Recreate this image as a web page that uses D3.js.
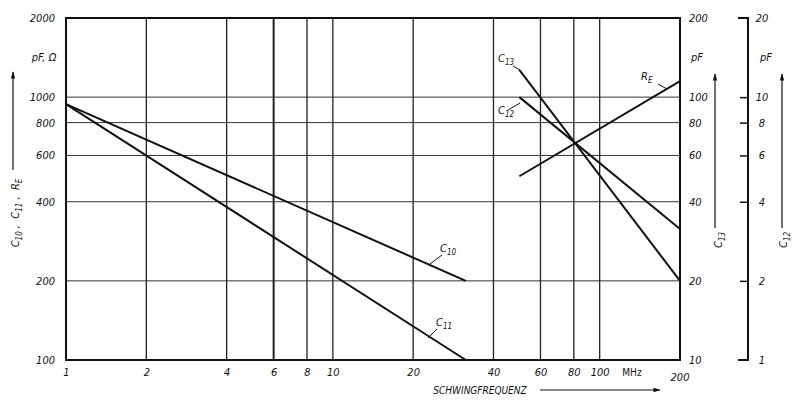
<!DOCTYPE html>
<html><head><meta charset="utf-8">
<script src="https://cdn.jsdelivr.net/npm/d3@7"></script>
<style>
body{margin:0;background:#fff;}
svg text{font-family:"Liberation Sans Narrow","DejaVu Sans Condensed","DejaVu Sans",sans-serif;font-style:italic;fill:#111;}
</style></head>
<body><svg id="c" width="799" height="411"></svg>
<script>
// Data
const freqTicks = [1,2,4,6,8,10,20,40,60,80,100,200];
const freqGrid = [2,4,6,8,10,20,40,60,80,100];
const leftTicks = [100,200,400,600,800,1000,2000];
const leftGrid = [200,400,600,800,1000];
const right1Ticks = [10,20,40,60,80,100,200];
const right2Ticks = [1,2,4,6,8,10,20];
const c10Freq = [1,31.5], c10Val = [940,200];
const c11Freq = [1,31.5], c11Val = [940,100];
const c13Freq = [50,200], c13Val = [127,20];     // right axis pF 10..200
const c12Freq = [50,200], c12Val = [10,3.15];    // second right axis 1..20
const reFreq = [50,200], reVal = [500,1150];     // left axis Ω

const svg = d3.select("#c");
const L=66,R=680,T=18,B=360;
const x = d3.scaleLog().domain([1,200]).range([L,R]);
const yL = d3.scaleLog().domain([100,2000]).range([B,T]);
const yR1 = d3.scaleLog().domain([10,200]).range([B,T]);
const yR2 = d3.scaleLog().domain([1,20]).range([B,T]);

// grid
svg.append("g").selectAll("line").data(leftGrid).join("line")
  .attr("x1",L).attr("x2",R).attr("y1",d=>yL(d)).attr("y2",d=>yL(d))
  .attr("stroke","#333").attr("stroke-width",1);
svg.append("g").selectAll("line").data(freqGrid).join("line")
  .attr("x1",d=>x(d)).attr("x2",d=>x(d)).attr("y1",T).attr("y2",B)
  .attr("stroke","#222").attr("stroke-width",d=>d===6?2:1.3);

// frame
svg.append("rect").attr("x",L).attr("y",T).attr("width",R-L).attr("height",B-T)
  .attr("fill","none").attr("stroke","#111").attr("stroke-width",2);

// axes (labels only)
const fs = 11;
const gx = svg.append("g").attr("transform",`translate(0,${B})`)
  .call(d3.axisBottom(x).tickValues(freqTicks.filter(d=>d!==200)).tickFormat(d3.format("d")).tickSize(0).tickPadding(8));
gx.select(".domain").remove();
gx.selectAll("text").attr("font-size",fs).attr("font-family",null);
svg.append("text").attr("x",x(200)).attr("y",B+21).attr("text-anchor","middle").attr("font-size",fs).text("200");
svg.append("text").attr("x",632).attr("y",B+16).attr("text-anchor","middle").attr("font-size",10).style("font-style","normal").text("MHz");

const gyl = svg.append("g").attr("transform",`translate(${L},0)`)
  .call(d3.axisLeft(yL).tickValues(leftTicks).tickFormat(d3.format("d")).tickSize(0).tickPadding(11));
gyl.select(".domain").remove();
gyl.selectAll("text").attr("font-size",fs).attr("font-family",null);

const gyr = svg.append("g").attr("transform",`translate(${R},0)`)
  .call(d3.axisRight(yR1).tickValues(right1Ticks).tickFormat(d3.format("d")).tickSize(0).tickPadding(9));
gyr.select(".domain").remove();
gyr.selectAll("text").attr("font-size",fs).attr("font-family",null);

// second right axis bracket
const A2=748;
svg.append("path").attr("d",`M${A2-10},${T}H${A2}V${B}H${A2-10}`).attr("fill","none").attr("stroke","#111").attr("stroke-width",2);
const gyr2 = svg.append("g").attr("transform",`translate(${A2},0)`)
  .call(d3.axisLeft(yR2).tickValues(right2Ticks.filter(d=>d!==1&&d!==20)).tickSize(8).tickFormat(""));
gyr2.select(".domain").remove();
gyr2.selectAll("line").attr("stroke","#111").attr("stroke-width",1.5);
svg.append("g").selectAll("text").data(right2Ticks).join("text")
  .attr("x",A2+14).attr("y",d=>yR2(d)+4).attr("text-anchor","middle").attr("font-size",fs).text(d=>d);

// units
svg.append("text").attr("x",44).attr("y",61).attr("text-anchor","middle").attr("font-size",fs).text("pF, Ω");
svg.append("text").attr("x",697).attr("y",61).attr("text-anchor","middle").attr("font-size",fs).text("pF");
svg.append("text").attr("x",766).attr("y",61).attr("text-anchor","middle").attr("font-size",fs).text("pF");

// arrows
const defs = svg.append("defs");
defs.append("marker").attr("id","ah").attr("viewBox","0 0 10 10").attr("refX",9).attr("refY",5)
  .attr("markerWidth",8).attr("markerHeight",6).attr("orient","auto")
  .append("path").attr("d","M0,2L10,5L0,8Z").attr("fill","#111");
function arrow(x1,y1,x2,y2){svg.append("line").attr("x1",x1).attr("y1",y1).attr("x2",x2).attr("y2",y2)
  .attr("stroke","#111").attr("stroke-width",1.2).attr("marker-end","url(#ah)");}
arrow(13,170,13,72);
arrow(715,228,715,74);
arrow(782,228,782,74);
arrow(540,390,660,390);

// rotated axis titles with subscripts: [text, dy, isSub]
function vtitle(cx,cy,parts){
  const t=svg.append("text").attr("transform",`translate(${cx},${cy}) rotate(-90)`).attr("text-anchor","middle").attr("font-size",fs).style("white-space","pre");
  parts.forEach(p=>{const s=t.append("tspan").text(p[0]); if(p[1]) s.attr("dy",p[1]); if(p[2]) s.attr("font-size",8);});
}
vtitle(19,213,[["C"],["10",3,1],[" ,  C",-3],["11",3,1],[" ,  R",-3],["E",3,1]]);
vtitle(722,240,[["C"],["13",3,1]]);
vtitle(787,240,[["C"],["12",3,1]]);

svg.append("text").attr("x",480).attr("y",394).attr("text-anchor","middle").attr("font-size",10).text("SCHWINGFREQUENZ");

// series
const lineL = d3.line().x(d=>x(d[0])).y(d=>yL(d[1]));
const lineR1 = d3.line().x(d=>x(d[0])).y(d=>yR1(d[1]));
const lineR2 = d3.line().x(d=>x(d[0])).y(d=>yR2(d[1]));
const zip=(a,b)=>a.map((v,i)=>[v,b[i]]);
function draw(gen,data){svg.append("path").datum(data).attr("d",gen).attr("fill","none").attr("stroke","#111").attr("stroke-width",2);}
draw(lineL,zip(c10Freq,c10Val));
draw(lineL,zip(c11Freq,c11Val));
draw(lineL,zip(reFreq,reVal));
draw(lineR1,zip(c13Freq,c13Val));
draw(lineR2,zip(c12Freq,c12Val));

// series labels with leaders
function lab(tx,ty,sub,lx1,ly1,lx2,ly2){
  const t=svg.append("text").attr("x",tx).attr("y",ty).attr("font-size",fs);
  t.append("tspan").text(sub[0]); t.append("tspan").attr("font-size",8).attr("dy",3).text(sub[1]);
  svg.append("line").attr("x1",lx1).attr("y1",ly1).attr("x2",lx2).attr("y2",ly2).attr("stroke","#111").attr("stroke-width",1);
}
lab(440,252,["C","10"],430,264,442,255);
lab(436,326,["C","11"],428,338,437,329);
lab(498,62,["C","13"],513,66,520,70);
lab(498,114,["C","12"],508,110,520,103);
lab(641,80,["R","E"],658,84,667,89);
</script></body></html>
